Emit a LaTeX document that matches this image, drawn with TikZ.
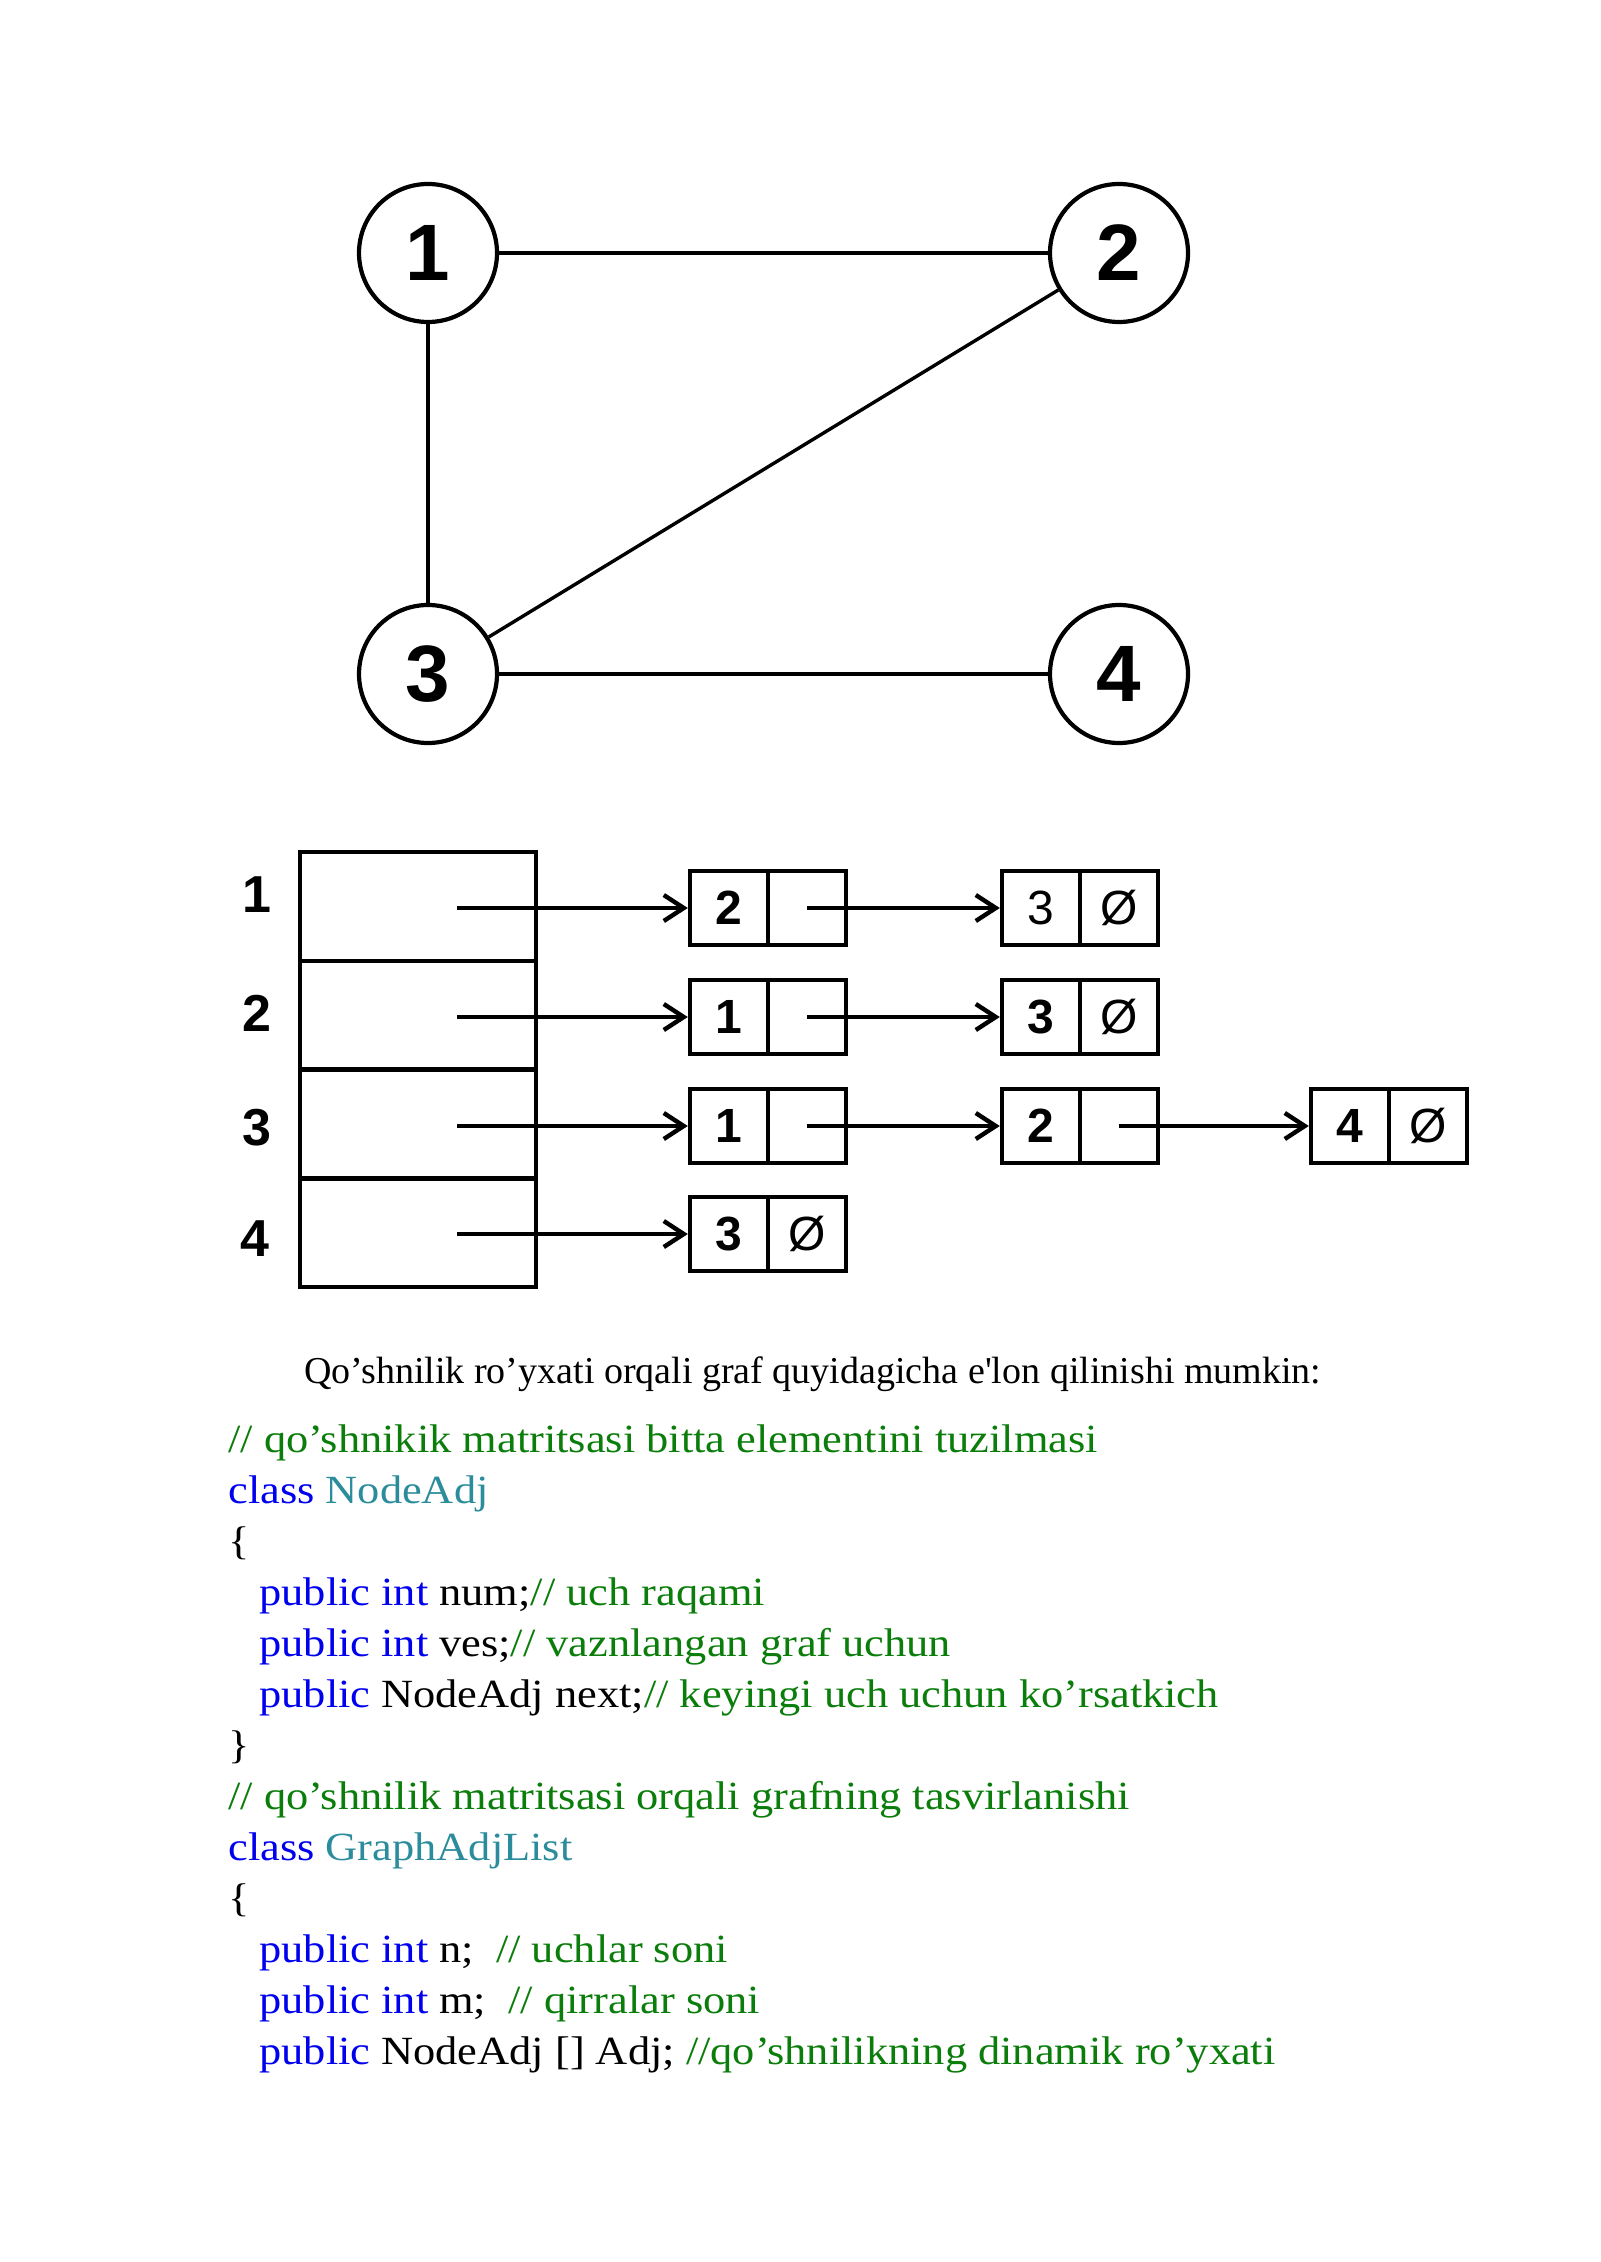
\documentclass[tikz,border=0pt]{standalone}
\usepackage{fontspec}
\usetikzlibrary{arrows.meta}
\newfontfamily\capfont{Liberation Serif}
\newfontfamily\codefont[FakeStretch=1.11]{Liberation Serif}
\newfontfamily\digfont{Liberation Sans}
\definecolor{cgreen}{HTML}{0B7D0B}
\definecolor{cblue}{HTML}{0000EE}
\definecolor{cteal}{HTML}{2B8C9C}
\tikzset{
 vert/.style={circle, draw, line width=2.1pt, minimum size=69pt, inner sep=0pt, font=\digfont\bfseries\fontsize{40}{40}\selectfont},
 edge/.style={line width=1.7pt},
 cell/.style={draw, line width=2.2pt, minimum width=118pt, minimum height=54.4pt, inner sep=0pt},
 lcell/.style={draw, line width=2.2pt, minimum width=39pt, minimum height=37pt, inner sep=0pt, font=\digfont\bfseries\fontsize{24}{24}\selectfont},
 rcell/.style={lcell, font=\digfont\fontsize{24}{24}\selectfont},
 rowlab/.style={font=\digfont\bfseries\fontsize{26}{26}\selectfont, inner sep=0pt},
 arr/.style={line width=2.1pt, -{Straight Barb[length=10pt,width=13pt,line width=2.2pt]}},
 codeline/.style={anchor=base west, inner sep=0pt, font=\codefont\fontsize{20}{25}\selectfont},
 capline/.style={anchor=base west, inner sep=0pt, font=\capfont\fontsize{19}{23}\selectfont},
}
\begin{document}
\begin{tikzpicture}[x=0.5pt,y=-0.5pt]
\fill[white] (0,0) rectangle (1600,2262);
\useasboundingbox (0,0) rectangle (1600,2262);
% graph
\node[vert] (v1) at (428,253) {1};
\node[vert] (v2) at (1119,253) {2};
\node[vert] (v3) at (428,674) {3};
\node[vert] (v4) at (1119,674) {4};
\draw[edge] (v1) -- (v2);
\draw[edge] (v1) -- (v3);
\draw[edge] (v3) -- (v2);
\draw[edge] (v3) -- (v4);
% table
\node[cell] (t1) at (418,906.4) {};
\node[cell] (t2) at (418,1015.1) {};
\node[cell] (t3) at (418,1123.9) {};
\node[cell] (t4) at (418,1232.6) {};
\node[rowlab] (r1) at (257,895) {1};
\node[rowlab] (r2) at (257,1013) {2};
\node[rowlab] (r3) at (257,1128) {3};
\node[rowlab] (r4) at (255,1239) {4};
\coordinate (s1) at (457,908);
\coordinate (s2) at (457,1017);
\coordinate (s3) at (457,1126);
\coordinate (s4) at (457,1234);
% list boxes row 1
\node[lcell] (b11l) at (729,908) {2};
\node[rcell] (b11r) at (807,908) {};
\node[lcell, font=\digfont\fontsize{24}{24}\selectfont] (b12l) at (1041,908) {3};
\node[rcell] (b12r) at (1119,908) {Ø};
% row 2
\node[lcell] (b21l) at (729,1017) {1};
\node[rcell] (b21r) at (807,1017) {};
\node[lcell] (b22l) at (1041,1017) {3};
\node[rcell] (b22r) at (1119,1017) {Ø};
% row 3
\node[lcell] (b31l) at (729,1126) {1};
\node[rcell] (b31r) at (807,1126) {};
\node[lcell] (b32l) at (1041,1126) {2};
\node[rcell] (b32r) at (1119,1126) {};
\node[lcell] (b33l) at (1350,1126) {4};
\node[rcell] (b33r) at (1428,1126) {Ø};
% row 4
\node[lcell] (b41l) at (729,1234) {3};
\node[rcell] (b41r) at (807,1234) {Ø};
% arrows
\draw[arr] (s1) -- (b11l.west);
\draw[arr] (b11r.center) -- (b12l.west);
\draw[arr] (s2) -- (b21l.west);
\draw[arr] (b21r.center) -- (b22l.west);
\draw[arr] (s3) -- (b31l.west);
\draw[arr] (b31r.center) -- (b32l.west);
\draw[arr] (b32r.center) -- (b33l.west);
\draw[arr] (s4) -- (b41l.west);
% caption
\node[capline] (cap) at (304,1383) {Qo’shnilik ro’yxati orqali graf quyidagicha e'lon qilinishi mumkin:};
% code
\node[codeline] (k1) at (228,1452) {\color{cgreen}// qo’shnikik matritsasi bitta elementini tuzilmasi};
\node[codeline] (k2) at (228,1503) {\color{cblue}class \color{cteal}NodeAdj};
\node[codeline] (k3) at (228,1554) {\{};
\node[codeline] (k4) at (259,1605) {\color{cblue}public int \color{black}num;\color{cgreen}// uch raqami};
\node[codeline] (k5) at (259,1656) {\color{cblue}public int \color{black}ves;\color{cgreen}// vaznlangan graf uchun};
\node[codeline] (k6) at (259,1707) {\color{cblue}public \color{black}NodeAdj next;\color{cgreen}// keyingi uch uchun ko’rsatkich};
\node[codeline] (k7) at (228,1758) {\}};
\node[codeline] (k8) at (228,1809) {\color{cgreen}// qo’shnilik matritsasi orqali grafning tasvirlanishi};
\node[codeline] (k9) at (228,1860) {\color{cblue}class \color{cteal}GraphAdjList};
\node[codeline] (k10) at (228,1911) {\{};
\node[codeline] (k11) at (259,1962) {\color{cblue}public int \color{black}n;\ \ \color{cgreen}// uchlar soni};
\node[codeline] (k12) at (259,2013) {\color{cblue}public int \color{black}m;\ \ \color{cgreen}// qirralar soni};
\node[codeline] (k13) at (259,2064) {\color{cblue}public \color{black}NodeAdj [] Adj; \color{cgreen}//qo’shnilikning dinamik ro’yxati};
\end{tikzpicture}
\end{document}
